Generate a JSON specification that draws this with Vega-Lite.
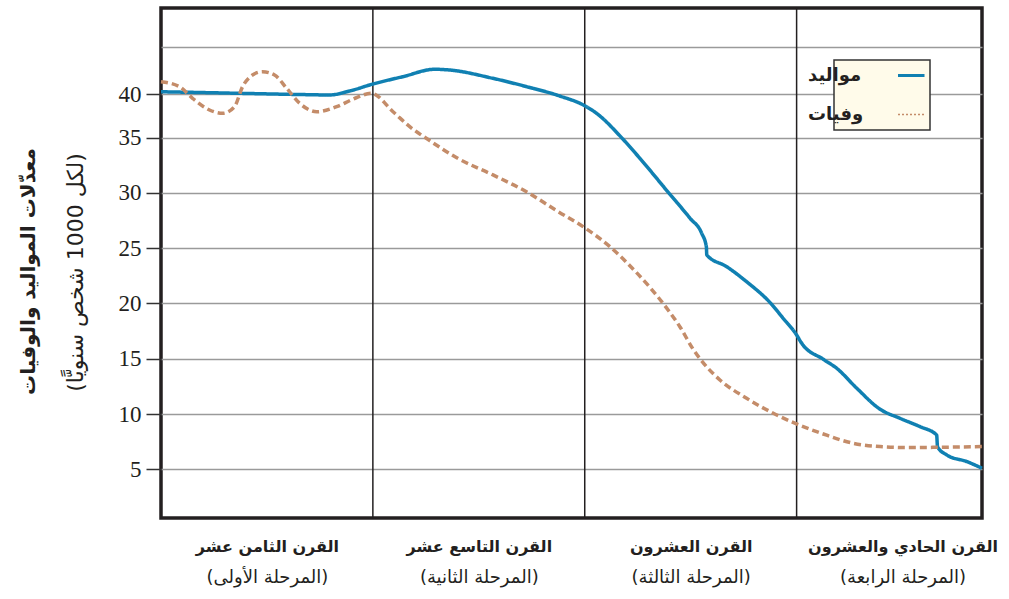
{
  "$schema": "https://vega.github.io/schema/vega-lite/v6.json",
  "width": 821,
  "height": 510,
  "autosize": {"type": "none"},
  "padding": {"left": 161, "top": 8, "right": 27, "bottom": 81},
  "background": "white",
  "config": {
    "view": {"stroke": "#231f20", "strokeWidth": 3.5},
    "axis": {"labelColor": "#231f20", "titleColor": "#231f20"}
  },
  "data": {
    "values": [
      {"series": "مواليد", "x": 0, "rate": 40.24},
      {"series": "مواليد", "x": 0.182, "rate": 40.16},
      {"series": "مواليد", "x": 0.418, "rate": 40.05},
      {"series": "مواليد", "x": 0.654, "rate": 39.94},
      {"series": "مواليد", "x": 0.796, "rate": 39.89},
      {"series": "مواليد", "x": 0.89, "rate": 40.32},
      {"series": "مواليد", "x": 1.0, "rate": 41.06},
      {"series": "مواليد", "x": 1.141, "rate": 41.84},
      {"series": "مواليد", "x": 1.292, "rate": 42.63},
      {"series": "مواليد", "x": 1.363, "rate": 42.55},
      {"series": "مواليد", "x": 1.566, "rate": 41.67},
      {"series": "مواليد", "x": 1.726, "rate": 40.78},
      {"series": "مواليد", "x": 1.882, "rate": 39.77},
      {"series": "مواليد", "x": 2.0, "rate": 38.66},
      {"series": "مواليد", "x": 2.056, "rate": 37.79},
      {"series": "مواليد", "x": 2.174, "rate": 35.0},
      {"series": "مواليد", "x": 2.26, "rate": 33.14},
      {"series": "مواليد", "x": 2.394, "rate": 30.06},
      {"series": "مواليد", "x": 2.497, "rate": 27.71},
      {"series": "مواليد", "x": 2.552, "rate": 26.35},
      {"series": "مواليد", "x": 2.574, "rate": 25.14},
      {"series": "مواليد", "x": 2.576, "rate": 24.39},
      {"series": "مواليد", "x": 2.67, "rate": 23.33},
      {"series": "مواليد", "x": 2.764, "rate": 21.97},
      {"series": "مواليد", "x": 2.882, "rate": 19.93},
      {"series": "مواليد", "x": 2.93, "rate": 18.81},
      {"series": "مواليد", "x": 3.0, "rate": 17.15},
      {"series": "مواليد", "x": 3.024, "rate": 16.4},
      {"series": "مواليد", "x": 3.126, "rate": 14.95},
      {"series": "مواليد", "x": 3.189, "rate": 14.14},
      {"series": "مواليد", "x": 3.284, "rate": 12.33},
      {"series": "مواليد", "x": 3.394, "rate": 10.43},
      {"series": "مواليد", "x": 3.488, "rate": 9.61},
      {"series": "مواليد", "x": 3.583, "rate": 8.85},
      {"series": "مواليد", "x": 3.661, "rate": 8.1},
      {"series": "مواليد", "x": 3.665, "rate": 7.04},
      {"series": "مواليد", "x": 3.709, "rate": 6.29},
      {"series": "مواليد", "x": 3.804, "rate": 5.69},
      {"series": "مواليد", "x": 3.875, "rate": 5.09},
      {"series": "وفيات", "x": 0, "rate": 41.31},
      {"series": "وفيات", "x": 0.087, "rate": 40.78},
      {"series": "وفيات", "x": 0.149, "rate": 39.51},
      {"series": "وفيات", "x": 0.229, "rate": 38.17},
      {"series": "وفيات", "x": 0.291, "rate": 37.79},
      {"series": "وفيات", "x": 0.347, "rate": 38.55},
      {"series": "وفيات", "x": 0.385, "rate": 40.78},
      {"series": "وفيات", "x": 0.432, "rate": 42.02},
      {"series": "وفيات", "x": 0.479, "rate": 42.37},
      {"series": "وفيات", "x": 0.536, "rate": 42.02},
      {"series": "وفيات", "x": 0.593, "rate": 40.61},
      {"series": "وفيات", "x": 0.654, "rate": 38.94},
      {"series": "وفيات", "x": 0.735, "rate": 37.97},
      {"series": "وفيات", "x": 0.829, "rate": 38.55},
      {"series": "وفيات", "x": 0.905, "rate": 39.39},
      {"series": "وفيات", "x": 0.993, "rate": 40.07},
      {"series": "وفيات", "x": 1.095, "rate": 37.97},
      {"series": "وفيات", "x": 1.174, "rate": 36.26},
      {"series": "وفيات", "x": 1.268, "rate": 34.74},
      {"series": "وفيات", "x": 1.394, "rate": 33.2},
      {"series": "وفيات", "x": 1.567, "rate": 31.63},
      {"series": "وفيات", "x": 1.725, "rate": 30.11},
      {"series": "وفيات", "x": 1.867, "rate": 28.4},
      {"series": "وفيات", "x": 2.0, "rate": 26.85},
      {"series": "وفيات", "x": 2.119, "rate": 25.14},
      {"series": "وفيات", "x": 2.229, "rate": 23.1},
      {"series": "وفيات", "x": 2.308, "rate": 21.45},
      {"series": "وفيات", "x": 2.386, "rate": 19.6},
      {"series": "وفيات", "x": 2.449, "rate": 17.9},
      {"series": "وفيات", "x": 2.512, "rate": 15.85},
      {"series": "وفيات", "x": 2.575, "rate": 14.28},
      {"series": "وفيات", "x": 2.638, "rate": 13.08},
      {"series": "وفيات", "x": 2.764, "rate": 11.42},
      {"series": "وفيات", "x": 2.89, "rate": 10.07},
      {"series": "وفيات", "x": 3.0, "rate": 9.1},
      {"series": "وفيات", "x": 3.126, "rate": 8.19},
      {"series": "وفيات", "x": 3.268, "rate": 7.35},
      {"series": "وفيات", "x": 3.394, "rate": 7.05},
      {"series": "وفيات", "x": 3.52, "rate": 6.96},
      {"series": "وفيات", "x": 3.677, "rate": 6.99},
      {"series": "وفيات", "x": 3.875, "rate": 7.05}
    ]
  },
  "layer": [
    {
      "data": {"values": [{"c": 1}, {"c": 2}, {"c": 3}]},
      "mark": {"type": "rule", "color": "#231f20", "strokeWidth": 1.5},
      "encoding": {
        "x": {"field": "c", "type": "quantitative", "scale": {"domain": [0, 3.875], "nice": false, "zero": false}, "axis": null}
      }
    },
    {
      "transform": [{"filter": "datum.series == 'مواليد'"}],
      "mark": {"type": "line", "interpolate": "monotone", "strokeWidth": 3.5},
      "encoding": {
        "x": {
          "field": "x", "type": "quantitative",
          "scale": {"domain": [0, 3.875], "nice": false, "zero": false},
          "axis": {
            "orient": "bottom",
            "values": [0.5, 1.5, 2.5, 3.5],
            "labelExpr": "datum.value == 0.5 ? 'القرن الثامن عشر' : datum.value == 1.5 ? 'القرن التاسع عشر' : datum.value == 2.5 ? 'القرن العشرون' : 'القرن الحادي والعشرون'",
            "ticks": false, "tickSize": 0, "domain": false, "grid": false, "title": null,
            "labelFont": "DejaVu Sans", "labelFontWeight": "bold", "labelFontSize": 16,
            "labelPadding": 20, "labelOverlap": false, "labelFlush": false, "labelBound": false, "labelLimit": 0
          }
        },
        "y": {
          "field": "rate", "type": "quantitative",
          "scale": {"domain": [0.59, 35, 40, 45, 49.15], "range": [510, 129.7, 86, 39, 0], "nice": false, "zero": false},
          "axis": {
            "values": [5, 10, 15, 20, 25, 30, 35, 40, 45],
            "labelExpr": "datum.value == 45 ? '' : datum.label",
            "tickOpacity": {"condition": {"test": "datum.value == 45", "value": 0}, "value": 1},
            "tickSize": 15, "tickWidth": 1.5, "tickColor": "#333333",
            "domain": false,
            "grid": true, "gridColor": "#9a9a9a", "gridWidth": 1.5,
            "labelFont": "Liberation Serif", "labelFontSize": 23, "labelPadding": 5,
            "title": "معدّلات المواليد والوفيات",
            "titleFont": "DejaVu Sans", "titleFontWeight": "bold", "titleFontSize": 20,
            "titleX": -133, "titleY": 263, "titleAngle": -90, "titleAlign": "center", "titleBaseline": "middle"
          }
        },
        "color": {"field": "series", "type": "nominal", "scale": {"domain": ["مواليد", "وفيات"], "range": ["#1080b2", "#c48c69"]},
          "legend": {
            "orient": "top-right", "offset": 52, "title": null,
            "fillColor": "#fffbea", "strokeColor": "#333333", "padding": 5,
            "labelExpr": "'x'", "labelOpacity": 0, "labelFontSize": 17,
            "symbolType": "stroke", "symbolSize": 2304, "symbolStrokeWidth": 3,
            "symbolOffset": 53, "labelOffset": 7,
            "rowPadding": 18, "clipHeight": 21,
            "encode": {
              "legend": {"update": {"strokeWidth": {"value": 1.5}}},
              "symbols": {"update": {
                "x": {"value": 83},
                "strokeWidth": {"signal": "datum.value == 'وفيات' ? 1.5 : 3"},
                "strokeDash": {"signal": "datum.value == 'وفيات' ? [2, 2] : [1, 0]"}
              }}
            }
          }
        },
        "strokeDash": {"field": "series", "type": "nominal", "scale": {"domain": ["مواليد", "وفيات"], "range": [[1, 0], [7, 4]]},
          "legend": {
            "orient": "none", "legendX": 629, "legendY": 57, "title": null,
            "padding": 0,
            "labelFont": "DejaVu Sans", "labelFontWeight": "bold", "labelFontSize": 18, "labelColor": "#231f20",
            "symbolType": "stroke", "symbolSize": 1, "symbolOpacity": 0,
            "symbolOffset": 0, "labelOffset": 0, "labelLimit": 0,
            "rowPadding": 18, "clipHeight": 21
          }
        }
      }
    },
    {
      "transform": [{"filter": "datum.series == 'وفيات'"}],
      "mark": {"type": "line", "interpolate": "monotone", "strokeWidth": 3.5},
      "encoding": {
        "x": {
          "field": "x", "type": "quantitative",
          "scale": {"domain": [0, 3.875], "nice": false, "zero": false},
          "axis": {
            "orient": "bottom",
            "values": [0.5, 1.5, 2.5, 3.5],
            "labelExpr": "datum.value == 0.5 ? '(المرحلة الأولى)' : datum.value == 1.5 ? '(المرحلة الثانية)' : datum.value == 2.5 ? '(المرحلة الثالثة)' : '(المرحلة الرابعة)'",
            "ticks": false, "tickSize": 0, "domain": false, "grid": false, "title": null,
            "labelFont": "DejaVu Sans", "labelFontWeight": "normal", "labelFontSize": 18,
            "labelPadding": 50, "labelOverlap": false, "labelFlush": false, "labelBound": false, "labelLimit": 0
          }
        },
        "y": {
          "field": "rate", "type": "quantitative",
          "scale": {"domain": [0.59, 35, 40, 45, 49.15], "range": [510, 129.7, 86, 39, 0], "nice": false, "zero": false},
          "axis": {
            "orient": "left",
            "labels": false, "ticks": false, "domain": false, "grid": false,
            "title": "(لكل 1000 شخص سنويًّا)",
            "titleFont": "DejaVu Sans", "titleFontWeight": "normal", "titleFontSize": 22,
            "titleX": -86, "titleY": 264, "titleAngle": -90, "titleAlign": "center", "titleBaseline": "middle"
          }
        },
        "color": {"field": "series", "type": "nominal", "scale": {"domain": ["مواليد", "وفيات"], "range": ["#1080b2", "#c48c69"]}},
        "strokeDash": {"field": "series", "type": "nominal", "scale": {"domain": ["مواليد", "وفيات"], "range": [[1, 0], [7, 4]]}}
      }
    }
  ],
  "resolve": {"axis": {"x": "independent", "y": "independent"}}
}
